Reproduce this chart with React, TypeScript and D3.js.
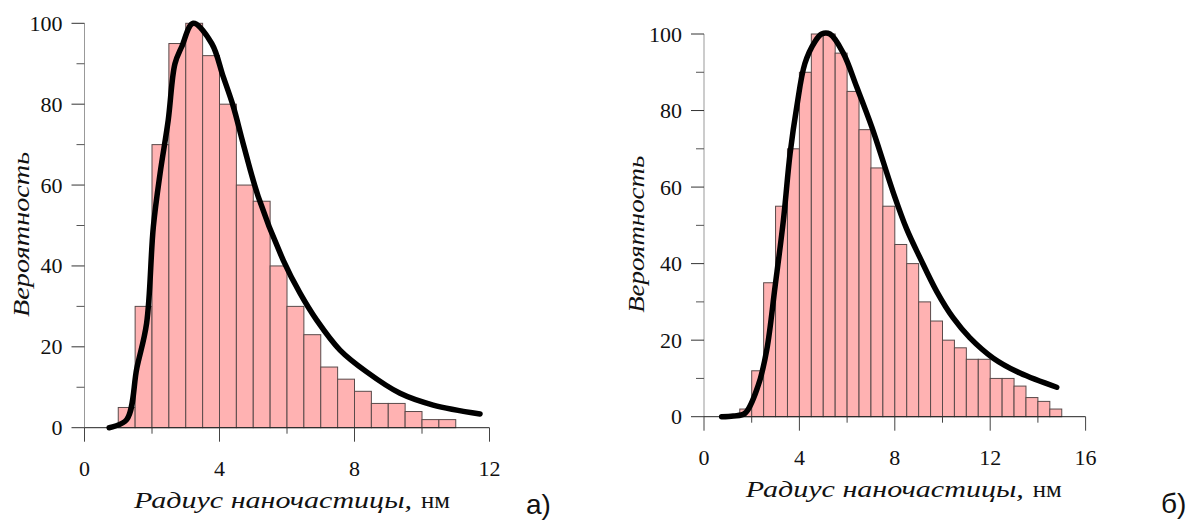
import React from "react";
import * as d3 from "d3";

// ---- Data ----
const binWidth = 0.5;
const binStartA = 1.0;
const valuesA = [5, 30, 70, 95, 100, 92, 80, 60, 56, 40, 30, 23, 15, 12, 9, 6, 6, 4, 2, 2];
const binStartB = 1.5;
const valuesB = [2, 12, 35, 55, 70, 90, 100, 100, 95, 85, 75, 65, 55, 45, 40, 30, 25, 20, 18, 15, 15, 10, 10, 8, 5, 4, 2];

const curveAx = [0.73, 1.25, 1.55, 1.84, 2.04, 2.24, 2.48, 2.68, 2.88, 3.22, 3.77, 4.11, 4.41, 4.7, 5.15, 5.89, 6.39, 6.88, 7.57, 8.36, 9.35, 10.33, 11.72];
const curveAy = [0, 2, 14.7, 25.8, 49.7, 62.9, 76, 90, 94.2, 100, 95, 86.8, 79.4, 70.3, 57.1, 41.4, 33.2, 26.6, 19.2, 13.8, 8.5, 5.6, 3.4];

const curveBx = [0.74, 1.23, 1.72, 2.28, 2.63, 2.98, 3.33, 3.61, 3.89, 4.23, 4.65, 4.93, 5.28, 5.84, 6.4, 7.03, 7.94, 8.5, 9.06, 9.76, 10.45, 11.15, 12.13, 13.25, 14.79];
const curveBy = [0, 0.2, 0.9, 8.3, 17.4, 34, 51.4, 68.8, 81, 92.3, 98, 100, 100, 95, 86.2, 75.8, 58.5, 49, 41.5, 32.7, 25.8, 20.6, 15.3, 11.4, 7.7];

const yMajor = [0, 20, 40, 60, 80, 100];
const yMinor = [10, 30, 50, 70, 90];
const xMajorA = [0, 4, 8, 12];
const xMinorA = [2, 6, 10];
const xMajorB = [0, 4, 8, 12, 16];
const xMinorB = [2, 6, 10, 14];

const yLabel = "Вероятность";
const xLabelItalic = "Радиус наночастицы,";
const xLabelUnit = "нм";

const SERIF = "Liberation Serif";
const SANS = "Liberation Sans";

type PanelProps = {
  values: number[];
  binStart: number;
  cx: number[];
  cy: number[];
  xMax: number;
  xMajor: number[];
  xMinor: number[];
  x0: number;
  x1: number;
  y0: number;
  y1: number;
  yLabelX: number;
  yLabelLen: number;
  xLabelY: number;
  xLabelShift: number;
  tag: string;
  tagX: number;
  tagY: number;
};

function Panel(p: PanelProps) {
  const x = d3.scaleLinear().domain([0, p.xMax]).range([p.x0, p.x1]);
  const y = d3.scaleLinear().domain([0, 100]).range([p.y0, p.y1]);
  const pts: [number, number][] = p.cx.map((v, i) => [v, p.cy[i]]);
  const line = d3
    .line<[number, number]>()
    .x((d) => x(d[0]))
    .y((d) => y(d[1]))
    .curve(d3.curveCatmullRom.alpha(0.5));
  const ax = x(0);
  const base = y(0);
  const labelStart = (p.x0 + p.x1) / 2 - 153 + p.xLabelShift;
  return (
    <g>
      {p.values.map((v, i) => {
        const l = p.binStart + i * binWidth;
        return (
          <rect
            key={i}
            x={x(l)}
            y={y(v)}
            width={x(l + binWidth) - x(l)}
            height={base - y(v)}
            fill="#ffb2b2"
            stroke="#5a4a4a"
            strokeWidth={1}
          />
        );
      })}
      {/* y axis */}
      <line x1={ax} x2={ax} y1={base} y2={y(100)} stroke="#999" strokeWidth={1} />
      {yMajor.map((t) => (
        <g key={"ym" + t}>
          <line x1={ax - 13} x2={ax} y1={y(t)} y2={y(t)} stroke="#333" strokeWidth={1} />
          <text
            x={ax - 22}
            y={y(t) + 7.5}
            textAnchor="end"
            fontFamily={SERIF}
            fontSize={22}
            fill="#111"
          >
            {t}
          </text>
        </g>
      ))}
      {yMinor.map((t) => (
        <line key={"yn" + t} x1={ax - 8} x2={ax} y1={y(t)} y2={y(t)} stroke="#555" strokeWidth={1} />
      ))}
      {/* x axis */}
      <line x1={ax} x2={x(p.xMax)} y1={base} y2={base} stroke="#222" strokeWidth={1} />
      {p.xMajor.map((t) => (
        <g key={"xm" + t}>
          <line x1={x(t)} x2={x(t)} y1={base} y2={base + 14} stroke="#444" strokeWidth={1} />
          <text
            x={x(t)}
            y={base + 48}
            textAnchor="middle"
            fontFamily={SERIF}
            fontSize={22}
            fill="#111"
          >
            {t}
          </text>
        </g>
      ))}
      {p.xMinor.map((t) => (
        <line key={"xn" + t} x1={x(t)} x2={x(t)} y1={base} y2={base + 6} stroke="#444" strokeWidth={1} />
      ))}
      {/* fitted curve */}
      <path
        d={line(pts) || ""}
        fill="none"
        stroke="#000"
        strokeWidth={5.5}
        strokeLinecap="round"
        strokeLinejoin="round"
      />
      {/* labels */}
      <text
        transform={`translate(${p.yLabelX},${(p.y0 + p.y1) / 2 + 9}) rotate(-90)`}
        x={-p.yLabelLen / 2}
        y={0}
        textLength={p.yLabelLen}
        lengthAdjust="spacingAndGlyphs"
        fontFamily={SERIF}
        fontStyle="italic"
        fontSize={24}
        fill="#111"
      >
        {yLabel}
      </text>
      <text
        x={labelStart}
        y={p.xLabelY}
        textLength={278}
        lengthAdjust="spacingAndGlyphs"
        fontFamily={SERIF}
        fontStyle="italic"
        fontSize={23}
        fill="#111"
      >
        {xLabelItalic}
      </text>
      <text
        x={labelStart + 287}
        y={p.xLabelY}
        textLength={29}
        lengthAdjust="spacingAndGlyphs"
        fontFamily={SERIF}
        fontSize={23}
        fill="#111"
      >
        {xLabelUnit}
      </text>
      <text x={p.tagX} y={p.tagY} fontFamily={SANS} fontSize={28} fill="#111">
        {p.tag}
      </text>
    </g>
  );
}

export default function App() {
  return (
    <svg
      width={1195}
      height={520}
      style={{ position: "absolute", left: 0, top: 0, background: "#fff" }}
    >
      <rect width={1195} height={520} fill="#fff" />
      <Panel
        values={valuesA}
        binStart={binStartA}
        cx={curveAx}
        cy={curveAy}
        xMax={12}
        xMajor={xMajorA}
        xMinor={xMinorA}
        x0={84.5}
        x1={489.5}
        y0={427.7}
        y1={23.3}
        yLabelX={29}
        yLabelLen={165}
        xLabelY={508}
        xLabelShift={0}
        tag="а)"
        tagX={526}
        tagY={514}
      />
      <Panel
        values={valuesB}
        binStart={binStartB}
        cx={curveBx}
        cy={curveBy}
        xMax={16}
        xMajor={xMajorB}
        xMinor={xMinorB}
        x0={704}
        x1={1085.6}
        y0={416.7}
        y1={34}
        yLabelX={644}
        yLabelLen={157}
        xLabelY={497}
        xLabelShift={4}
        tag="б)"
        tagX={1161}
        tagY={513}
      />
    </svg>
  );
}
